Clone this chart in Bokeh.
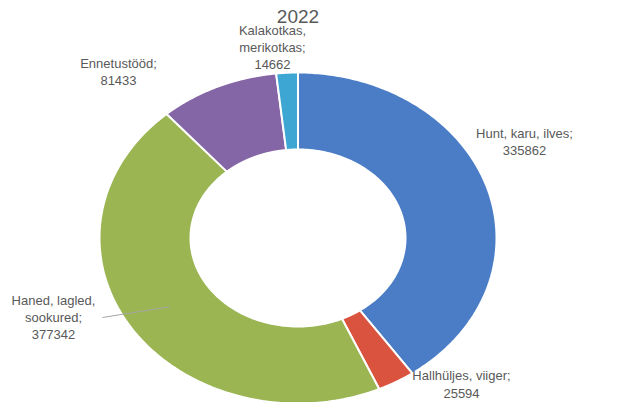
import numpy as np
from bokeh.plotting import figure
from bokeh.models import Range1d, ColumnDataSource
from bokeh.core.properties import value
from bokeh.embed import file_html
from bokeh.resources import INLINE

title = "2022"
categories = ["Hunt, karu, ilves", "Hallhüljes, viiger", "Haned, lagled,\nsookured",
              "Ennetustööd", "Kalakotkas,\nmerikotkas"]
values = [335862, 25594, 377342, 81433, 14662]
colors = ["#4A7DC6", "#D9533F", "#9BB553", "#8465A5", "#3DA6D2"]

# layout (pixel coordinates of the picture)
cx, cy = 298.5, 238.5
rx_out, ry_out = 198.5, 165.5
rx_in, ry_in = 107.5, 88.5
label_pos = [(525, 142.5), (462, 385), (54, 318), (119, 72.5), (273, 48)]

p = figure(width=609, height=402, output_backend="svg", toolbar_location=None,
           x_range=Range1d(1, 610), y_range=Range1d(403, 1), min_border=0)
p.axis.visible = False
p.grid.visible = False
p.outline_line_color = None
p.background_fill_color = "white"

total = float(sum(values))
fracs = np.array(values) / total
ends = np.cumsum(fracs) * 2 * np.pi
starts = ends - fracs * 2 * np.pi

xs, ys = [], []
for s, e in zip(starts, ends):
    t = np.linspace(s, e, 200)
    ox = cx + rx_out * np.sin(t)
    oy = cy - ry_out * np.cos(t)
    ix = cx + rx_in * np.sin(t[::-1])
    iy = cy - ry_in * np.cos(t[::-1])
    xs.append(list(np.concatenate([ox, ix])))
    ys.append(list(np.concatenate([oy, iy])))

p.patches(xs=xs, ys=ys, fill_color=colors, line_color="white", line_width=2)

# leader line for the green slice
gi = 2
mid = (starts[gi] + ends[gi]) / 2
mx = cx + (rx_out + rx_in) / 2 * np.sin(mid)
my = cy - (ry_out + ry_in) / 2 * np.cos(mid)
p.line(x=[mx, 103], y=[my, 318], line_color="#A6A6A6", line_width=1)

labels = [f"{c};\n{v}" for c, v in zip(categories, values)]
src = ColumnDataSource(dict(x=[q[0] for q in label_pos], y=[q[1] for q in label_pos], t=labels))
p.text(x="x", y="y", text="t", source=src, text_align="center", text_baseline="middle",
       text_font=value("Liberation Sans"), text_font_size="13px", text_color="#595959",
       text_line_height=1.15)

p.text(x=[cx], y=[17], text=[title], text_align="center", text_baseline="middle",
       text_font=value("Liberation Sans"), text_font_size="19px", text_color="#595959")

open("out.html", "w").write(file_html(p, INLINE))
